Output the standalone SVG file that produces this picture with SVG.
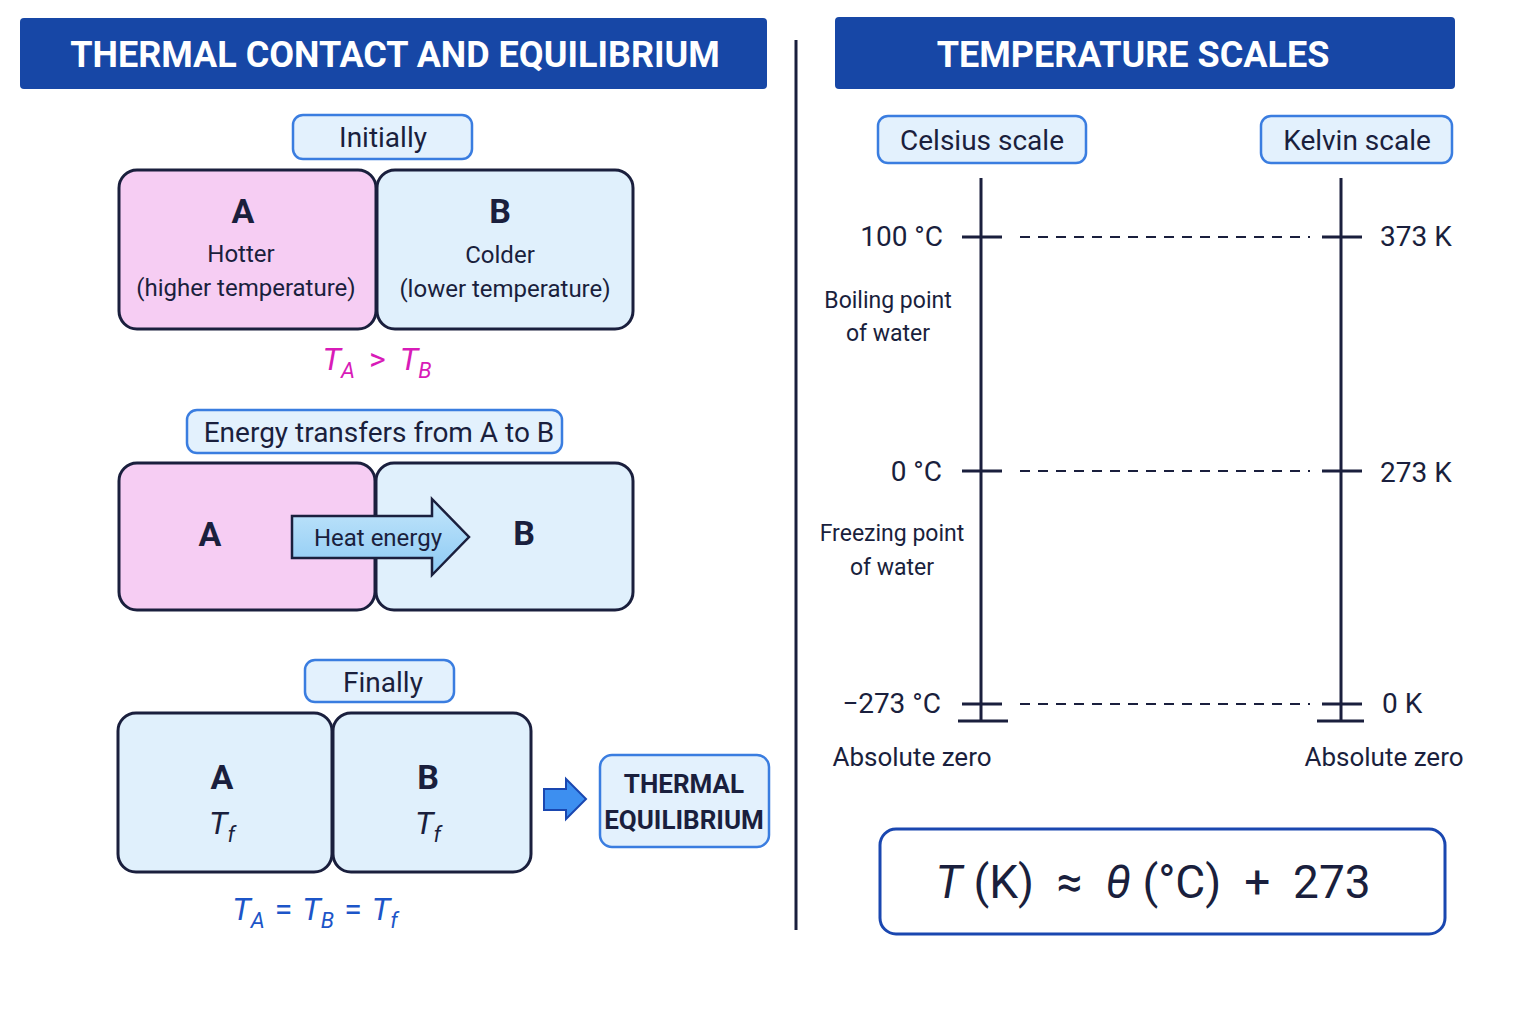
<svg xmlns="http://www.w3.org/2000/svg" width="1536" height="1024" viewBox="0 0 1536 1024">
<style>
text{font-family:Roboto,"Liberation Sans",sans-serif;fill:#1a1f3d;text-anchor:middle}
.hdr{fill:#1747a6}
.ht{fill:#fff;font-weight:bold;font-size:36px}
.lbl{fill:#e3f1fd;stroke:#3a7de0;stroke-width:2.5}
.lt{font-size:28px}
.pink{fill:#f6cdf3;stroke:#1a1f3d;stroke-width:3}
.blue{fill:#e0f0fc;stroke:#1a1f3d;stroke-width:3}
.big{font-size:34px;font-weight:bold}
.sm{font-size:24px}
.ax{stroke:#1a1f3d;stroke-width:3}
.dash{stroke:#1a1f3d;stroke-width:2;stroke-dasharray:10 8}
.val{font-size:28px}
.note{font-size:23px}
.it{font-style:italic}
</style>
<defs><linearGradient id="hg" x1="0" y1="0" x2="0" y2="1"><stop offset="0" stop-color="#c4e6fb"/><stop offset="1" stop-color="#8ccaf4"/></linearGradient></defs>
<g id="left-header"><rect class="hdr" x="20" y="18" width="747" height="71" rx="4"/><text class="ht" x="395" y="67">THERMAL CONTACT AND EQUILIBRIUM</text></g>
<g id="right-header"><rect class="hdr" x="835" y="17" width="620" height="72" rx="4"/><text class="ht" x="1133" y="67">TEMPERATURE SCALES</text></g>
<line x1="796" y1="40" x2="796" y2="930" stroke="#1a1f3d" stroke-width="3"/>
<g id="initially"><rect class="lbl" x="293" y="115" width="179" height="44" rx="10"/><text class="lt" x="383" y="147">Initially</text></g>
<g id="boxA1"><rect class="pink" x="119" y="170" width="257" height="159" rx="18"/><text class="big" x="243" y="223">A</text><text class="sm" x="241" y="262">Hotter</text><text class="sm" x="246" y="296">(higher temperature)</text></g>
<g id="boxB1"><rect class="blue" x="377" y="170" width="256" height="159" rx="18"/><text class="big" x="500" y="223">B</text><text class="sm" x="500" y="263">Colder</text><text class="sm" x="505" y="297">(lower temperature)</text></g>
<text x="377" y="370" style="fill:#d81bb8;font-size:32px"><tspan class="it" style="fill:#d81bb8">T</tspan><tspan class="it" dy="8" font-size="22" style="fill:#d81bb8">A</tspan><tspan dy="-8" dx="14" style="fill:#d81bb8">&gt;</tspan><tspan class="it" dx="14" style="fill:#d81bb8">T</tspan><tspan class="it" dy="8" font-size="22" style="fill:#d81bb8">B</tspan></text>
<g id="energy"><rect class="lbl" x="187" y="410" width="375" height="43" rx="10"/><text class="lt" x="379" y="442" font-size="27">Energy transfers from A to B</text></g>
<g id="boxA2"><rect class="pink" x="119" y="463" width="256" height="147" rx="18"/><text class="big" x="210" y="546">A</text></g>
<g id="boxB2"><rect class="blue" x="376" y="463" width="257" height="147" rx="18"/><text class="big" x="524" y="545">B</text></g>
<g id="connectors">
<path d="M292 516 H432 V499 L469 537 L432 575 V558 H292 Z" fill="url(#hg)" stroke="#1a1f3d" stroke-width="2.5"/>
<path d="M544 789 H566 V779 L586 799 L566 819 V810 H544 Z" fill="#3d8ff0" stroke="#1a47b0" stroke-width="2"/>
</g>
<text x="378" y="546" class="sm">Heat energy</text>
<g id="finally"><rect class="lbl" x="305" y="660" width="149" height="42" rx="10"/><text class="lt" x="383" y="692">Finally</text></g>
<g id="boxA3"><rect class="blue" x="118" y="713" width="214" height="159" rx="18"/><text class="big" x="222" y="789">A</text><text x="222" y="834" font-size="32"><tspan class="it">T</tspan><tspan class="it" dy="8" font-size="22">f</tspan></text></g>
<g id="boxB3"><rect class="blue" x="333" y="713" width="198" height="159" rx="18"/><text class="big" x="428" y="789">B</text><text x="428" y="834" font-size="32"><tspan class="it">T</tspan><tspan class="it" dy="8" font-size="22">f</tspan></text></g>
<g id="equilibrium"><rect class="lbl" x="600" y="755" width="169" height="92" rx="12"/><text x="684" y="793" font-size="26" font-weight="bold">THERMAL</text><text x="684" y="829" font-size="26" font-weight="bold">EQUILIBRIUM</text></g>
<text x="315" y="920" font-size="32" style="fill:#1c55c8"><tspan class="it" style="fill:#1c55c8">T</tspan><tspan class="it" dy="8" font-size="22" style="fill:#1c55c8">A</tspan><tspan dy="-8" dx="10" style="fill:#1c55c8">=</tspan><tspan class="it" dx="10" style="fill:#1c55c8">T</tspan><tspan class="it" dy="8" font-size="22" style="fill:#1c55c8">B</tspan><tspan dy="-8" dx="10" style="fill:#1c55c8">=</tspan><tspan class="it" dx="10" style="fill:#1c55c8">T</tspan><tspan class="it" dy="8" font-size="22" style="fill:#1c55c8">f</tspan></text>
<g id="celsius"><rect class="lbl" x="878" y="116" width="208" height="47" rx="10"/><text class="lt" x="982" y="150">Celsius scale</text></g>
<g id="kelvin"><rect class="lbl" x="1261" y="116" width="191" height="47" rx="10"/><text class="lt" x="1357" y="150">Kelvin scale</text></g>
<g id="scales">
<line class="ax" x1="981" y1="178" x2="981" y2="722"/><line class="ax" x1="1341" y1="178" x2="1341" y2="722"/>
<line class="ax" x1="962" y1="237" x2="1002" y2="237"/><line class="ax" x1="1322" y1="237" x2="1362" y2="237"/>
<line class="ax" x1="962" y1="471" x2="1002" y2="471"/><line class="ax" x1="1322" y1="471" x2="1362" y2="471"/>
<line class="ax" x1="962" y1="704" x2="1002" y2="704"/><line class="ax" x1="1322" y1="704" x2="1362" y2="704"/>
<line class="ax" x1="958" y1="721" x2="1008" y2="721"/><line class="ax" x1="1317" y1="721" x2="1364" y2="721"/>
<line class="dash" x1="1020" y1="237" x2="1310" y2="237"/><line class="dash" x1="1020" y1="471" x2="1310" y2="471"/><line class="dash" x1="1020" y1="704" x2="1310" y2="704"/>
</g>
<text class="val" x="943" y="246" text-anchor="end" style="text-anchor:end">100 °C</text>
<text class="val" x="1380" y="246" style="text-anchor:start">373 K</text>
<text class="val" x="942" y="481" style="text-anchor:end">0 °C</text>
<text class="val" x="1380" y="482" style="text-anchor:start">273 K</text>
<text class="val" x="941" y="713" style="text-anchor:end">−273 °C</text>
<text class="val" x="1382" y="713" style="text-anchor:start">0 K</text>
<text class="note" x="888" y="308">Boiling point</text><text class="note" x="888" y="341">of water</text>
<text class="note" x="892" y="541">Freezing point</text><text class="note" x="892" y="575">of water</text>
<text x="912" y="766" font-size="26">Absolute zero</text><text x="1384" y="766" font-size="26">Absolute zero</text>
<g id="formula"><rect x="880" y="829" width="565" height="105" rx="16" fill="#fff" stroke="#1a47b0" stroke-width="3"/><text x="1153" y="898" font-size="46" xml:space="preserve"><tspan class="it">T</tspan> (K)  ≈  <tspan class="it">θ</tspan> (°C)  +  273</text></g>
</svg>
